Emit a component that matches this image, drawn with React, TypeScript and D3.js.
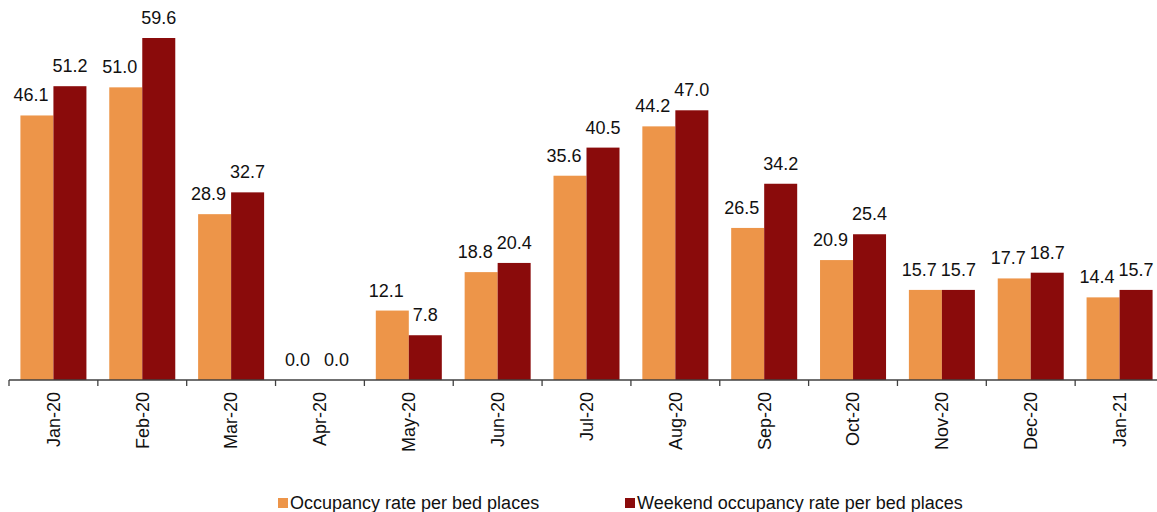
import React from "react";
import * as d3 from "d3";

const months = ["Jan-20", "Feb-20", "Mar-20", "Apr-20", "May-20", "Jun-20", "Jul-20", "Aug-20", "Sep-20", "Oct-20", "Nov-20", "Dec-20", "Jan-21"];
const occupancy = [46.1, 51.0, 28.9, 0.0, 12.1, 18.8, 35.6, 44.2, 26.5, 20.9, 15.7, 17.7, 14.4];
const weekend = [51.2, 59.6, 32.7, 0.0, 7.8, 20.4, 40.5, 47.0, 34.2, 25.4, 15.7, 18.7, 15.7];
const seriesNames = ["Occupancy rate per bed places", "Weekend occupancy rate per bed places"];
const colors = ["#ED9549", "#8A0B0B"];

const W = 1157;
const H = 512;
const FONT = "'Liberation Sans', Arial, sans-serif";

export default function App() {
	const baseY = 380;
	const x0 = d3.scaleBand().domain(months).range([9, 1164]).padding(0);
	const x1 = d3.scaleBand().domain(["a", "b"]).range([0, x0.bandwidth()]).paddingInner(0).paddingOuter(0.346);
	const y = d3.scaleLinear().domain([0, 59.6]).range([baseY, 38]);

	const series = [occupancy, weekend];
	const keys = ["a", "b"];
	const ticks = [...months.map((m) => x0(m)!), x0.range()[1]];
	// excel nudges the first series' labels a little to the left
	const labelShift = [-6, 0];

	const legendX = [278, 625];

	return (
		<svg width={W} height={H} style={{ position: "absolute", left: 0, top: 0, fontFamily: FONT }}>
			<rect width={W} height={H} fill="white" />
			{series.map((vals, si) =>
				months.map((m, i) => {
					const bx = x0(m)! + x1(keys[si])!;
					const bw = x1.bandwidth();
					return (
						<g key={`${si}-${i}`}>
							<rect x={bx} y={y(vals[i])} width={bw} height={baseY - y(vals[i])} fill={colors[si]} />
							<text x={bx + bw / 2 + labelShift[si]} y={y(vals[i]) - 14} textAnchor="middle" fontSize={18} fill="#111">
								{vals[i].toFixed(1)}
							</text>
						</g>
					);
				}),
			)}
			<line x1={9} x2={1164} y1={baseY} y2={baseY} stroke="#404040" strokeWidth={1.3} />
			{ticks.map((t, i) => (
				<line key={i} x1={t} x2={t} y1={baseY} y2={baseY + 6} stroke="#404040" strokeWidth={1.3} />
			))}
			{months.map((m) => {
				const cx = x0(m)! + x0.bandwidth() / 2;
				return (
					<text key={m} transform={`translate(${cx},${baseY + 12}) rotate(-90)`} textAnchor="end" dy="0.35em" fontSize={18} fill="#111">
						{m}
					</text>
				);
			})}
			{seriesNames.map((s, i) => (
				<g key={s} transform={`translate(${legendX[i]},503)`}>
					<rect x={0} y={-5} width={10} height={10} fill={colors[i]} />
					<text x={12} y={0} dy="0.35em" fontSize={18} fill="#111">
						{s}
					</text>
				</g>
			))}
		</svg>
	);
}
